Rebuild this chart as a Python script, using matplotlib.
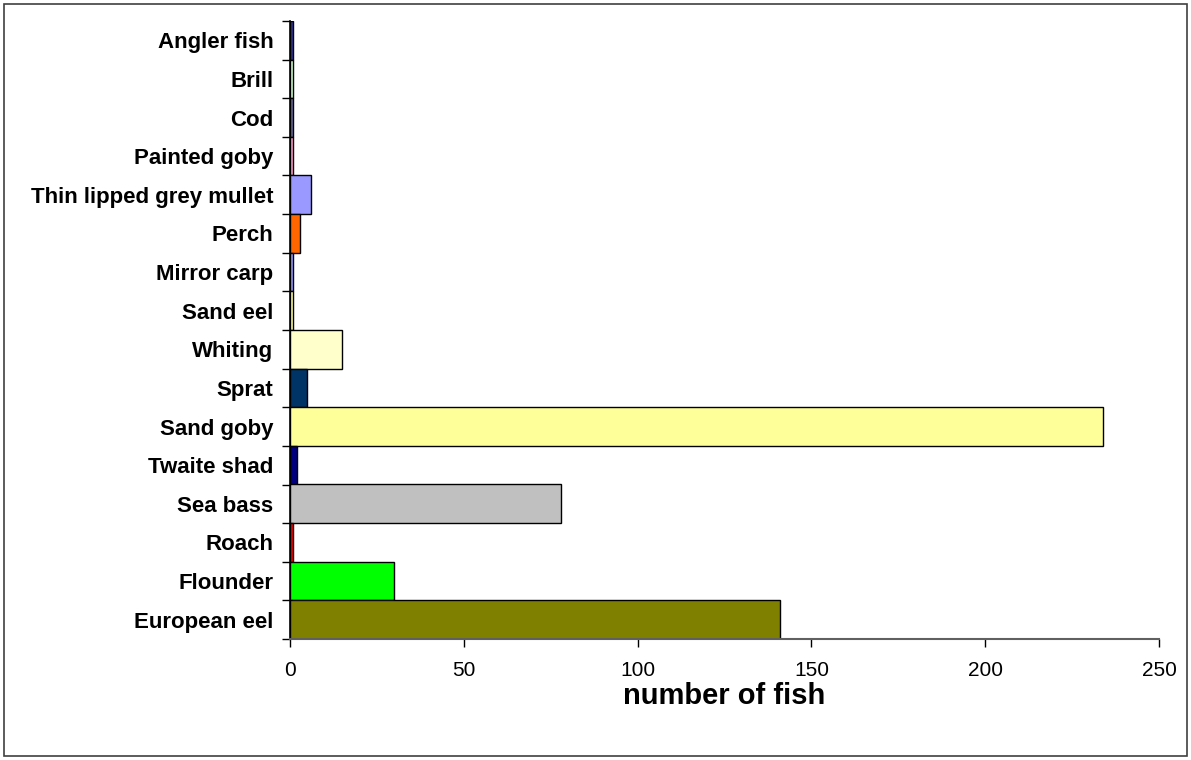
import matplotlib
matplotlib.use("Agg")
import matplotlib.pyplot as plt
from matplotlib.patches import Rectangle
from matplotlib.ticker import FixedLocator, NullFormatter

plt.rcParams['font.family'] = ['Liberation Sans', 'DejaVu Sans']

species = [
    "Angler fish", "Brill", "Cod", "Painted goby", "Thin lipped grey mullet",
    "Perch", "Mirror carp", "Sand eel", "Whiting", "Sprat", "Sand goby",
    "Twaite shad", "Sea bass", "Roach", "Flounder", "European eel",
]
counts = [1, 1, 1, 1, 6, 3, 1, 1, 15, 5, 234, 2, 78, 1, 30, 141]
colors = [
    "#333399", "#CCFFCC", "#666699", "#FF99CC", "#9999FF",
    "#FF6600", "#9999FF", "#FFFF99", "#FFFFCC", "#003366", "#FFFF99",
    "#000080", "#C0C0C0", "#FF0000", "#00FF00", "#808000",
]
x_ticks = [0, 50, 100, 150, 200, 250]

fig = plt.figure(figsize=(11.91, 7.60), dpi=100)
ax = fig.add_axes([0.2435, 0.1592, 0.9731 - 0.2435, 0.9724 - 0.1592])

n = len(species)
ypos = [n - 1 - i for i in range(n)]
ax.barh(ypos, counts, height=1.0, color=colors, edgecolor="black", linewidth=1.0)

ax.set_xlim(0, 250)
ax.set_ylim(-0.5, n - 0.5)

# category labels centred, tick marks on the boundaries between categories
ax.set_yticks(ypos)
ax.set_yticklabels(species, fontsize=16, fontweight="bold")
ax.tick_params(axis="y", which="major", length=0, pad=12)
ax.yaxis.set_minor_locator(FixedLocator([k - 0.5 for k in range(n + 1)]))
ax.yaxis.set_minor_formatter(NullFormatter())
ax.tick_params(axis="y", which="minor", length=6, width=1, direction="out", color="black")

ax.set_xticks(x_ticks)
ax.set_xticklabels([str(v) for v in x_ticks], fontsize=15)
ax.tick_params(axis="x", length=6, width=1, direction="out", pad=10, color="black")
ax.set_xlabel("number of fish", fontsize=21, fontweight="bold", labelpad=1)

for side in ("top", "right"):
    ax.spines[side].set_visible(False)
ax.spines["left"].set_color("black")
ax.spines["left"].set_linewidth(1.2)
ax.spines["bottom"].set_color("#606060")
ax.spines["bottom"].set_linewidth(1.5)

# outer chart frame
fig.patches.append(Rectangle((4 / 1191, 4 / 760), 1183 / 1191, 752 / 760,
                             transform=fig.transFigure, fill=False,
                             edgecolor="#404040", linewidth=1.2))

fig.savefig("out.png", dpi=100)
